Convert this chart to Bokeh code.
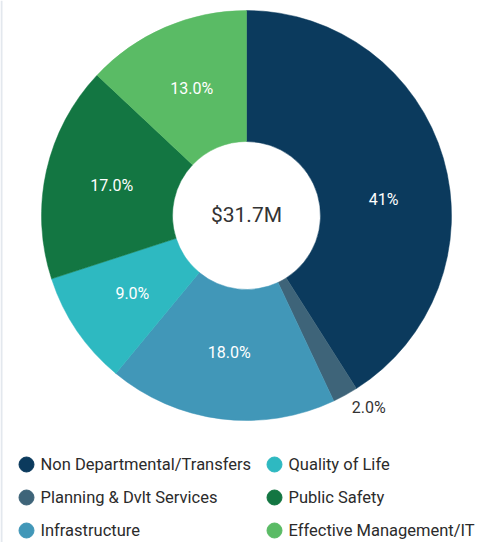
import math
from bokeh.plotting import figure
from bokeh.models import Range1d, ColumnDataSource, Span
from bokeh.core.properties import value
from bokeh.embed import file_html
from bokeh.resources import INLINE

# ---- data ----
categories = ["Non Departmental/Transfers", "Planning & Dvlt Services", "Infrastructure",
              "Quality of Life", "Public Safety", "Effective Management/IT"]
shares = [41.0, 2.0, 18.0, 9.0, 17.0, 13.0]
slice_labels = ["41%", "2.0%", "18.0%", "9.0%", "17.0%", "13.0%"]
colors = ["#0b3a5d", "#3e6479", "#4197b8", "#2eb9c1", "#137642", "#5abb65"]
center_label = "$31.7M"

# ---- layout ----
W, H = 485, 542
CX, CY = 246, H - 215
R_OUT, R_IN = 205, 74
R_LAB = 138
FONT = "Roboto"
label_angle_shift = [9.5, 0, 0, 0, 0, 0]   # degrees clockwise, label placement tweak

p = figure(width=W, height=H, x_range=Range1d(0, W), y_range=Range1d(0, H),
           x_axis_type=None, y_axis_type=None, toolbar_location=None,
           output_backend="svg", min_border=0, outline_line_color=None)
p.grid.visible = False
p.background_fill_color = "white"
p.border_fill_color = "white"

p.add_layout(Span(location=1, dimension="height", line_color="#e3e8ee", line_width=2))

total = sum(shares)
starts, ends, mids = [], [], []
cum = 0.0
for s in shares:
    a0 = math.pi / 2 - 2 * math.pi * cum / total
    cum += s
    a1 = math.pi / 2 - 2 * math.pi * cum / total
    starts.append(a0)
    ends.append(a1)
    mids.append((a0 + a1) / 2)

src = ColumnDataSource(dict(start=starts, end=ends, color=colors))
p.annular_wedge(x=CX, y=CY, inner_radius=R_IN, outer_radius=R_OUT,
                start_angle="start", end_angle="end", direction="clock",
                fill_color="color", line_color="color", line_width=0.5, source=src)

# slice labels
in_x, in_y, in_t = [], [], []
out_x, out_y, out_t = [], [], []
for i, (m, s, t) in enumerate(zip(mids, shares, slice_labels)):
    a = m - math.radians(label_angle_shift[i])
    if s / total < 0.05:
        r = R_OUT + 3
        out_x.append(CX + r * math.cos(m) + 5)
        out_y.append(CY + r * math.sin(m))
        out_t.append(t)
    else:
        in_x.append(CX + R_LAB * math.cos(a))
        in_y.append(CY + R_LAB * math.sin(a))
        in_t.append(t)

p.text(x=in_x, y=in_y, text=in_t, text_color="white", text_font=value(FONT),
       text_font_size="16px", text_align="center", text_baseline="middle")
p.text(x=out_x, y=out_y, text=out_t, text_color="#333333", text_font=value(FONT),
       text_font_size="16px", text_align="left", text_baseline="top")

p.text(x=[CX], y=[CY + 1], text=[center_label], text_color="#333333",
       text_font=value(FONT), text_font_size="21px", text_align="center",
       text_baseline="middle")

# legend (2 columns, column-major)
col_x = [26, 274]
row_y0, row_dy = 464, 33
lx, ly, lt, lc = [], [], [], []
for i, (c, col) in enumerate(zip(categories, colors)):
    ci, ri = divmod(i, 3)
    lx.append(col_x[ci])
    ly.append(H - (row_y0 + ri * row_dy))
    lt.append(c)
    lc.append(col)
p.scatter(x=lx, y=ly, size=15, marker="circle", fill_color=lc, line_color=lc)
p.text(x=[x + 14 for x in lx], y=ly, text=lt, text_color="#2b2b2b",
       text_font=value(FONT), text_font_size="16.5px", text_align="left",
       text_baseline="middle")

open("out.html", "w").write(file_html(p, INLINE))
